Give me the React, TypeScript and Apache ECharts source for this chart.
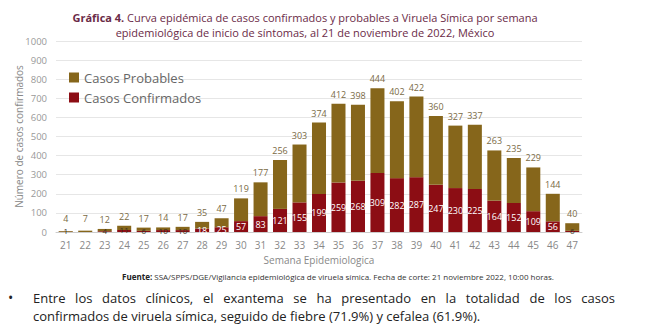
import React, { useEffect, useRef } from "react";
import * as echarts from "echarts";

const weeks = ["21","22","23","24","25","26","27","28","29","30","31","32","33","34","35","36","37","38","39","40","41","42","43","44","45","46","47"];
const confirmados = [1,0,4,11,6,10,10,18,25,57,83,121,155,199,259,268,309,282,287,247,230,225,164,152,109,56,6];
const probables = [4,7,12,22,17,14,17,35,47,119,177,256,303,374,412,398,444,402,422,360,327,337,263,235,229,144,40];

const FONT = "'Open Sans', 'Noto Sans', sans-serif";

export default function App() {
  const ref = useRef<HTMLDivElement>(null);
  useEffect(() => {
    if (!ref.current) return;
    const chart = echarts.init(ref.current, undefined, { renderer: "svg" });
    chart.setOption({
      animation: false,
      textStyle: { fontFamily: FONT },
      legend: {
        data: ["Casos Probables", "Casos Confirmados"],
        orient: "vertical",
        left: 64,
        top: 66,
        itemWidth: 10,
        itemHeight: 10,
        itemGap: 7,
        icon: "rect",
        textStyle: { fontSize: 13, color: "#666", fontFamily: FONT },
      },
      grid: { left: 56, right: 78, top: 41, bottom: 98 },
      xAxis: {
        type: "category",
        data: weeks,
        name: "Semana Epidemiologica",
        nameLocation: "middle",
        nameGap: 21,
        nameTextStyle: { fontSize: 10, color: "#888", fontFamily: FONT },
        axisTick: { show: false },
        axisLine: { lineStyle: { color: "#ccc" } },
        axisLabel: { fontSize: 10, color: "#888", margin: 8, fontFamily: FONT },
      },
      yAxis: {
        type: "value",
        min: 0,
        max: 1000,
        interval: 100,
        name: "Número de casos confirmados",
        nameLocation: "middle",
        nameGap: 32,
        nameMoveOverlap: false,
        nameTextStyle: { fontSize: 10, color: "#888", fontFamily: FONT },
        axisLabel: { fontSize: 9.5, color: "#999", margin: 9, fontFamily: FONT, formatter: (v: number) => String(v) },
        splitLine: { lineStyle: { color: "#e6e6e6" } },
      },
      series: [
        {
          name: "Casos Confirmados",
          type: "bar",
          stack: "t",
          barWidth: "72%",
          itemStyle: { color: "#8c0d14" },
          data: confirmados.map((v) => ({
            value: v,
            label:
              v < 15
                ? { color: "#3a3020", fontSize: 8, offset: [0, -1] }
                : { color: "#ffffff" },
          })),
          label: {
            show: true,
            position: "inside",
            fontSize: 9,
            fontFamily: FONT,
            formatter: (p: any) => (p.value ? String(p.value) : ""),
          },
        },
        {
          name: "Casos Probables",
          type: "bar",
          stack: "t",
          barWidth: "72%",
          itemStyle: { color: "#86661b" },
          data: probables.map((v, i) => ({
            value: v,
            label: v + confirmados[i] < 10 ? { distance: 8 } : {},
          })),
          label: {
            show: true,
            position: "top",
            distance: 5,
            fontSize: 9,
            color: "#7a6a45",
            fontFamily: FONT,
          },
        },
      ],
      graphic: [
        {
          type: "text",
          x: 305,
          y: 10,
          style: {
            text:
              "{b|Gráfica 4.} Curva epidémica de casos confirmados y probables a Viruela Símica por semana\nepidemiológica de inicio de síntomas, al 21 de noviembre de 2022, México",
            align: "center",
            fill: "#6b2b47",
            font: `11px ${FONT}`,
            lineHeight: 15,
            rich: {
              b: { fontWeight: "bold", fontSize: 11, fill: "#6b2b47", fontFamily: FONT },
            },
          },
        },
        {
          type: "text",
          x: 338,
          y: 272,
          style: {
            text:
              "{b|Fuente:} SSA/SPPS/DGE/Vigilancia epidemiológica de viruela símica. Fecha de corte: 21 noviembre 2022, 10:00 horas.",
            align: "center",
            fill: "#333",
            font: `8px ${FONT}`,
            rich: {
              b: { fontWeight: "bold", fontSize: 8, fill: "#222", fontFamily: FONT },
            },
          },
        },
      ],
    });
    return () => chart.dispose();
  }, []);

  return (
    <div style={{ position: "absolute", left: 0, top: 0, width: 660, height: 330, background: "#fff", overflow: "hidden" }}>
      <div ref={ref} style={{ position: "absolute", left: 0, top: 0, width: 660, height: 330 }} />
      <div
        style={{
          position: "absolute",
          left: 8,
          top: 289,
          fontFamily: FONT,
          fontSize: 14,
          lineHeight: "18px",
          color: "#222",
        }}
      >
        •
      </div>
      <div
        style={{
          position: "absolute",
          left: 33,
          top: 289,
          width: 582,
          fontFamily: FONT,
          fontSize: 13,
          lineHeight: "18px",
          color: "#222",
        }}
      >
        <div style={{ textAlign: "justify", textAlignLast: "justify", whiteSpace: "nowrap" as any }}>
          Entre los datos clínicos, el exantema se ha presentado en la totalidad de los casos
        </div>
        <div>confirmados de viruela símica, seguido de fiebre (71.9%) y cefalea (61.9%).</div>
      </div>
    </div>
  );
}
